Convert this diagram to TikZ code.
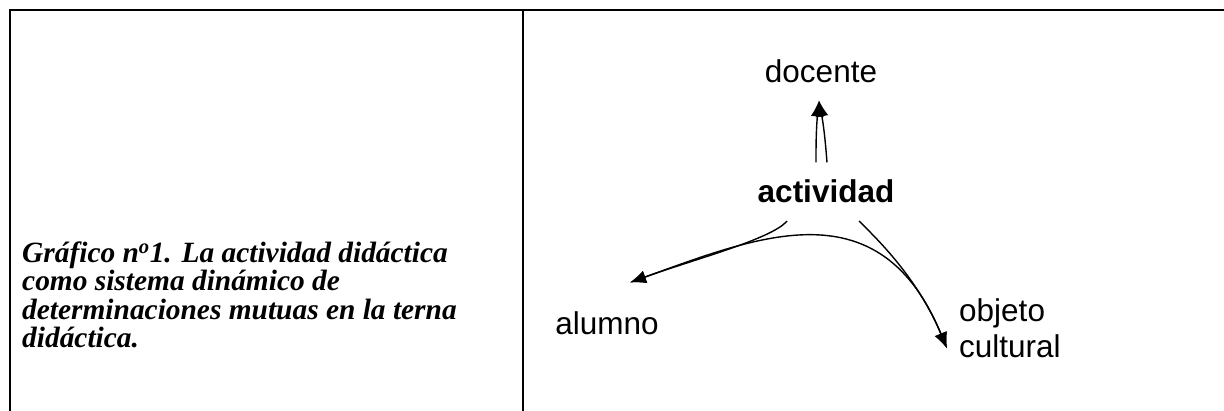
\documentclass[tikz,border=0pt]{standalone}
\usepackage{fontspec}
\setmainfont{Liberation Serif}
\newfontfamily\arialfont{Liberation Sans}
\usetikzlibrary{arrows.meta,calc}

\begin{document}
\begin{tikzpicture}[x=1pt,y=1pt,>={Latex[length=16,width=13]},
		lbl/.style={inner sep=0pt,font=\arialfont\fontsize{31.5}{36}\selectfont},
		rel/.style={->,line width=1.4pt},
		tabline/.style={line width=2.2pt}]
		\useasboundingbox (0,0) rectangle (1224,411);
		% Table
		\draw[tabline] (10,0) -- (10,401) -- (1224,401);
		\draw[tabline] (523,0) -- (523,401);
		% Caption
		\node[anchor=base west,align=left,inner sep=0pt,font=\bfseries\itshape\fontsize{29.4}{28.6}\selectfont] (cap) at (22,63) {Gr\'afico n\textsuperscript{o}1. La actividad did\'actica\\como sistema din\'amico de\\determinaciones mutuas en la terna\\did\'actica.};
		% Terna
		\node[lbl,anchor=base] (doc) at (821,328) {docente};
		\node[lbl,anchor=base,font=\arialfont\bfseries\fontsize{31.5}{36}\selectfont] (act) at (826,208) {actividad};
		\node[lbl,anchor=base] (alu) at (607,76) {alumno};
		\node[lbl,anchor=base west,align=left] (obj) at (959,53) {objeto\\cultural};
		% Relations
		\draw[rel] ([xshift=-10pt,yshift=17.5pt]act.north) to[bend left=3] ([xshift=-2pt,yshift=-17pt]doc.south);
		\draw[rel] ([xshift=1pt,yshift=17.5pt]act.north) to[bend right=3] ([xshift=-2pt,yshift=-17pt]doc.south);
		\draw[rel] ([xshift=-39pt,yshift=-17.5pt]act.south) .. controls +(-15,-18) and +(65,23.5) .. ([xshift=23pt,yshift=29.5pt]alu.north);
		\draw[rel] ([xshift=33pt,yshift=-17.5pt]act.south) .. controls +(16,-16) and +(-30,72) .. ([xshift=-12pt,yshift=10pt]obj.south west);
		\draw[rel,<->] ([xshift=23pt,yshift=29.5pt]alu.north) .. controls +(130,47) and +(-67,162) .. ([xshift=-12pt,yshift=10pt]obj.south west);
	\end{tikzpicture}
\end{document}
